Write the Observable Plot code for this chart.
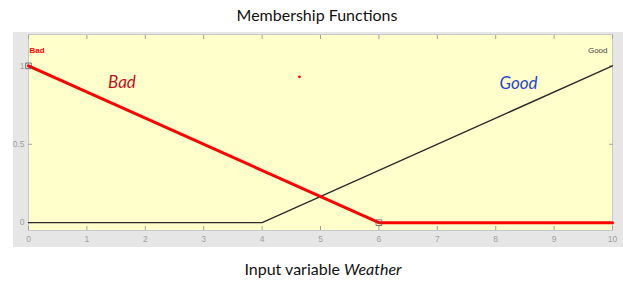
<!DOCTYPE html>
<html>
<head>
<meta charset="utf-8">
<script src="https://cdn.jsdelivr.net/npm/d3@7"></script>
<script src="https://cdn.jsdelivr.net/npm/@observablehq/plot@0.6"></script>
<style>
  html, body { margin: 0; padding: 0; background: #ffffff; }
  #wrap { position: relative; width: 623px; height: 284px; overflow: hidden; }
  #title { position: absolute; left: 0; top: 5px; width: 634px; text-align: center;
           font-family: Lato, "Open Sans", sans-serif; font-size: 16px; color: #111; }
  #chart { position: absolute; left: 13px; top: 32px; }
  #caption { position: absolute; left: 0; top: 259px; width: 646px; text-align: center;
             font-family: Lato, "Open Sans", sans-serif; font-size: 16px; color: #111; }
</style>
</head>
<body>
<div id="wrap">
  <div id="title">Membership Functions</div>
  <div id="chart"></div>
  <div id="caption">Input variable <i>Weather</i></div>
</div>
<script>
// Data
const xBad = [0, 6, 10];
const yBad = [1, 0, 0];
const xGood = [0, 4, 10];
const yGood = [0, 0, 1];
const xTicks = [0, 1, 2, 3, 4, 5, 6, 7, 8, 9, 10];
const yTicks = [0, 0.5, 1];
const yTickLabels = ["0", "0.5", "1"];
const mfNames = ["Bad", "Good"];
const bigLabelX = [1.6, 8.39];
const bigLabelY = [0.895, 0.89];
const vertexX = [0, 6];
const vertexY = [1, 0];
const strayDotX = [4.64];
const strayDotY = [0.93];

const bad = xBad.map((x, i) => ({x, y: yBad[i]}));
const good = xGood.map((x, i) => ({x, y: yGood[i]}));
const bigLabels = mfNames.map((name, i) => ({name, x: bigLabelX[i], y: bigLabelY[i]}));
const vertices = vertexX.map((x, i) => ({x, y: vertexY[i]}));
const strayDots = strayDotX.map((x, i) => ({x, y: strayDotY[i]}));

const tickColor = "#a0a0a0";

const chart = Plot.plot({
  width: 610,
  height: 215,
  marginLeft: 15,
  marginRight: 11,
  marginTop: 2,
  marginBottom: 17,
  style: { background: "#e6e6e6", fontFamily: "Liberation Sans, Arial, sans-serif", overflow: "visible" },
  x: { domain: [0, 10] },
  y: { domain: [-0.05, 1.2] },
  marks: [
    Plot.frame({ fill: "#ffffcc", stroke: "#c8c8c8" }),
    // bottom axis with inward ticks and labels
    Plot.axisX(xTicks, { anchor: "bottom", tickSize: -4, tickPadding: 9, stroke: tickColor, color: tickColor, fontSize: 8.5, label: null }),
    // top inward ticks
    Plot.axisX(xTicks, { anchor: "top", tickSize: -4, tickFormat: () => "", stroke: tickColor, label: null }),
    // left axis inward ticks with labels
    Plot.axisY(yTicks, { anchor: "left", tickSize: -4, tickPadding: 8,
      tickFormat: d => yTickLabels[yTicks.indexOf(d)],
      stroke: tickColor, color: tickColor, fontSize: 8.5, label: null }),
    Plot.axisY(yTicks, { anchor: "right", tickSize: -4, tickFormat: () => "", stroke: tickColor, label: null }),
    // membership functions
    Plot.line(good, { x: "x", y: "y", stroke: "#2b2b2b", strokeWidth: 1.4 }),
    Plot.line(bad, { x: "x", y: "y", stroke: "#ff0000", strokeWidth: 3 }),
    Plot.dot(vertices, { x: "x", y: "y", symbol: "square", r: 3.2, stroke: "#555", strokeWidth: 0.8, fill: "none" }),
    Plot.dot(strayDots, { x: "x", y: "y", r: 1.4, fill: "#ff0000" }),
    // small MF names at top
    Plot.text([mfNames[0]], { x: 0, y: 1.1, text: d => d, textAnchor: "start", dx: 1, fill: "#ff0000", fontSize: 8, fontWeight: "bold" }),
    Plot.text([mfNames[1]], { x: 10, y: 1.1, text: d => d, textAnchor: "end", dx: -5, fill: "#444", fontSize: 8 }),
    // big italic labels
    Plot.text(bigLabels, { x: "x", y: "y", text: "name", fontSize: 17, fontStyle: "italic",
      fontFamily: "Lato, 'Open Sans', sans-serif",
      fill: d => d.name === "Bad" ? "#c4121c" : "#2646cc" })
  ]
});
document.getElementById("chart").appendChild(chart);
</script>
</body>
</html>
